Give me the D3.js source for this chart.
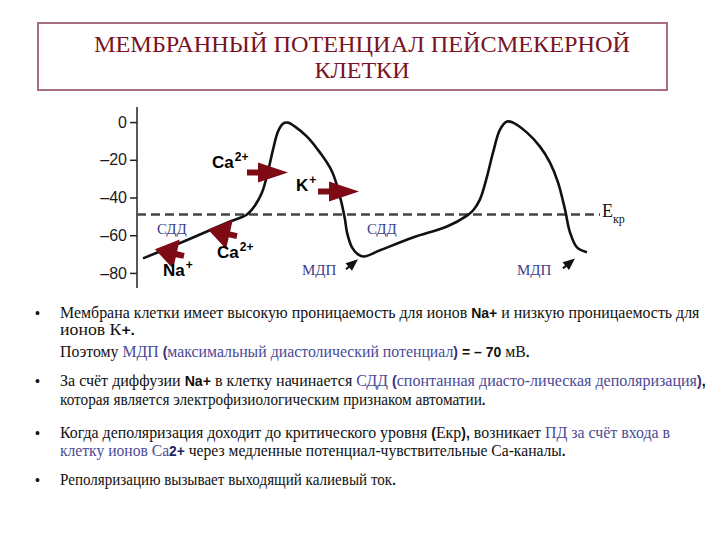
<!DOCTYPE html>
<html>
<head>
<meta charset="utf-8">
<script src="https://cdn.jsdelivr.net/npm/d3@7"></script>
<style>
  body { margin: 0; background: #fff; }
  .tick text { font-family: Arial, "Liberation Sans", sans-serif; font-size: 16px; fill: #1a1a1a; }
  .tick line, .axisLine { stroke: #222; stroke-width: 1.5; }
</style>
</head>
<body>
<div id="chart"></div>
<script>
// membrane potential trace: time (arbitrary ms) and potential (mV)
const timeMs = [12, 66, 126, 186, 220, 236, 250, 262, 272, 282, 292, 302, 316, 340, 366, 390, 406, 416, 420, 430, 442, 454,
                486, 552, 620, 660, 672, 686, 700, 712, 726, 740, 752, 780, 806, 826, 842, 856, 866, 880, 900];
const potentialMv = [-72.3, -66.4, -59.6, -52.7, -49, -44.2, -37.4, -26.2, -14.6, -5, -0.8, -0.3, -2.4, -7.7, -16.2, -26.2, -39.5, -51.7, -58.5, -66.5, -70.2, -71.3,
                     -68, -61.2, -55.4, -49.6, -46.9, -41, -28.9, -16.2, -4, 0.3, -0.3, -5.6, -13, -21.5, -32, -46.4, -58.5, -66.5, -69.1];
const yTicks = [0, -20, -40, -60, -80];
const thresholdMv = -49;

// ion arrows, tail -> tip in (ms, mV)
const ionArrows = [
  {kind: "big", from: [220, -26.8], to: [302, -26.8]},
  {kind: "big", from: [362, -36.8], to: [444, -36.8]},
  {kind: "side", from: [94, -71], to: [36, -67.5]},
  {kind: "side", from: [200, -60.5], to: [142, -57]}
];
const mdpArrows = [
  {from: [418, -78.1], to: [442, -72.8]},
  {from: [852, -77.6], to: [876, -72.3]}
];
const ionLabels = [
  {ion: "Ca", charge: "2+", at: [150, -24.6]},
  {ion: "K", charge: "+", at: [318, -36.8]},
  {ion: "Na", charge: "+", at: [52, -81.9]},
  {ion: "Ca", charge: "2+", at: [160, -72.3]}
];
const phaseLabels = [
  {text: "СДД", at: [40, -59.6]},
  {text: "СДД", at: [460, -59.6]},
  {text: "МДП", at: [330, -81.3]},
  {text: "МДП", at: [760, -81.3]}
];

const titleLines = ["МЕМБРАННЫЙ ПОТЕНЦИАЛ ПЕЙСМЕКЕРНОЙ", "КЛЕТКИ"];

// bullet text: [text, style]
const bulletText = [
  [["Мембрана клетки имеет высокую проницаемость для ионов ", "n"], ["Na+", "b"], [" и низкую проницаемость для", "n"]],
  [["ионов К", "n"], ["+.", "b"]],
  [["Поэтому ", "n"], ["МДП ", "c"], ["(", "cb"], ["максимальный диастолический потенциал", "c"], [")", "cb"], [" ", "n"], ["= – 70", "b"], [" мВ", "n"], [".", "b"]],
  [["За счёт диффузии ", "n"], ["Na+", "b"], [" в клетку начинается ", "n"], ["СДД ", "c"], ["(", "cb"], ["спонтанная диасто-лическая деполяризация", "c"], [")", "cb"], [",", "b"]],
  [["которая является электрофизиологическим признаком автоматии", "n"], [".", "b"]],
  [["Когда деполяризация доходит до критического уровня ", "n"], ["(", "b"], ["Екр", "n"], [")", "b"], [",", "b"], [" возникает ", "n"], ["ПД за счёт входа в", "c"]],
  [["клетку ионов Са", "c"], ["2+", "bc"], [" через медленные потенциал-чувствительные Са-каналы", "n"], [".", "b"]],
  [["Реполяризацию вызывает выходящий калиевый ток", "n"], [".", "b"]]
];

const W = 720, H = 540;
const svg = d3.select("#chart").append("svg").attr("width", W).attr("height", H);

// title box
svg.append("rect")
  .attr("x", 38).attr("y", 23).attr("width", 629).attr("height", 67)
  .attr("fill", "#fff").attr("stroke", "#a8707c").attr("stroke-width", 2);
svg.selectAll(".title")
  .data(titleLines)
  .join("text")
  .attr("x", 362)
  .attr("y", (d, i) => 52 + i * 26)
  .attr("text-anchor", "middle")
  .attr("font-family", "'Liberation Serif', 'Times New Roman', serif")
  .attr("font-size", 24)
  .attr("fill", "#7a1424")
  .attr("textLength", (d, i) => i === 0 ? 536 : null)
  .attr("lengthAdjust", "spacingAndGlyphs")
  .text(d => d);

// scales
const x = d3.scaleLinear().domain([0, 926]).range([137, 600]);
const y = d3.scaleLinear().domain([-88, 8]).range([288, 107]);

svg.append("line").attr("class", "axisLine")
  .attr("x1", x(0)).attr("x2", x(0))
  .attr("y1", y(8)).attr("y2", y(-88));
svg.append("g")
  .attr("transform", `translate(${x(0)},0)`)
  .call(d3.axisLeft(y).tickValues(yTicks).tickSize(7).tickPadding(3).tickSizeOuter(0)
    .tickFormat(d => d === 0 ? "0" : "–" + Math.abs(d)))
  .call(g => g.select(".domain").remove());

// threshold
svg.append("line")
  .attr("x1", x(0)).attr("x2", x(926))
  .attr("y1", y(thresholdMv)).attr("y2", y(thresholdMv))
  .attr("stroke", "#444").attr("stroke-width", 2.5)
  .attr("stroke-dasharray", "9,5");
const ek = svg.append("text")
  .attr("x", x(930)).attr("y", y(-50.6))
  .attr("font-family", "'Liberation Serif', serif").attr("font-size", 18).attr("fill", "#111");
ek.append("tspan").text("E");
ek.append("tspan").attr("dy", 6).attr("font-size", 12).text("кр");

// trace
const trace = timeMs.map((t, i) => ({t, v: potentialMv[i]}));
svg.append("path")
  .datum(trace)
  .attr("fill", "none")
  .attr("stroke", "#111")
  .attr("stroke-width", 2.6)
  .attr("stroke-linejoin", "round")
  .attr("d", d3.line().curve(d3.curveCatmullRom).x(d => x(d.t)).y(d => y(d.v)));

// arrow helper in pixel space
function arrowPath(x0, y0, x1, y1, headLen, headHalf, shaftHalf) {
  const dx = x1 - x0, dy = y1 - y0, L = Math.hypot(dx, dy);
  const ux = dx / L, uy = dy / L, px = -uy, py = ux;
  const bx = x1 - ux * headLen, by = y1 - uy * headLen;
  const p = [
    [x0 + px * shaftHalf, y0 + py * shaftHalf],
    [bx + px * shaftHalf, by + py * shaftHalf],
    [bx + px * headHalf, by + py * headHalf],
    [x1, y1],
    [bx - px * headHalf, by - py * headHalf],
    [bx - px * shaftHalf, by - py * shaftHalf],
    [x0 - px * shaftHalf, y0 - py * shaftHalf]
  ];
  return "M" + p.map(q => q.join(",")).join("L") + "Z";
}

svg.selectAll(".ionArrow")
  .data(ionArrows)
  .join("path")
  .attr("class", "ionArrow")
  .attr("fill", "#7d0a14")
  .attr("d", d => d.kind === "big"
    ? arrowPath(x(d.from[0]), y(d.from[1]), x(d.to[0]), y(d.to[1]), 30, 10, 3)
    : arrowPath(x(d.from[0]), y(d.from[1]), x(d.to[0]), y(d.to[1]), 22, 15, 3));

svg.selectAll(".mdpArrow")
  .data(mdpArrows)
  .join("path")
  .attr("class", "mdpArrow")
  .attr("fill", "#111")
  .attr("d", d => arrowPath(x(d.from[0]), y(d.from[1]), x(d.to[0]), y(d.to[1]), 12, 5, 1));

// ion labels
const il = svg.selectAll(".ionLabel")
  .data(ionLabels)
  .join("text")
  .attr("class", "ionLabel")
  .attr("x", d => x(d.at[0])).attr("y", d => y(d.at[1]))
  .attr("font-family", "Arial, 'Liberation Sans', sans-serif")
  .attr("font-weight", "bold")
  .attr("font-size", 17)
  .attr("fill", "#000");
il.append("tspan").text(d => d.ion);
il.append("tspan").attr("dy", -7).attr("dx", 1).attr("font-size", 12).text(d => d.charge);

svg.selectAll(".phase")
  .data(phaseLabels)
  .join("text")
  .attr("x", d => x(d.at[0])).attr("y", d => y(d.at[1]))
  .attr("font-family", "'Liberation Serif', serif")
  .attr("font-size", 15)
  .attr("fill", "#3d3d8c")
  .text(d => d.text);

// bullet text
const lineY = [318, 335, 357, 386, 405, 438, 456, 485];
const lineW = [640, 75, 470, 646, 426, 610, 506, 336];
const bulletLines = [0, 3, 5, 7];
const styles = {
  n: {family: "'Liberation Serif', serif", weight: "normal", fill: "#111"},
  b: {family: "Arial, 'Liberation Sans', sans-serif", weight: "bold", fill: "#111"},
  c: {family: "'Liberation Serif', serif", weight: "normal", fill: "#4a4a96"},
  cb: {family: "Arial, 'Liberation Sans', sans-serif", weight: "bold", fill: "#3b2a7a"},
  bc: {family: "Arial, 'Liberation Sans', sans-serif", weight: "bold", fill: "#23235e"}
};

bulletText.forEach((segs, i) => {
  const g = svg.append("g").attr("transform", `translate(60,${lineY[i]})`);
  const t = g.append("text");
  segs.forEach(([s, k]) => {
    const st = styles[k];
    t.append("tspan")
      .attr("font-family", st.family)
      .attr("font-weight", st.weight)
      .attr("font-size", k === "n" || k === "c" ? 17 : 15)
      .attr("fill", st.fill)
      .text(s);
  });
  const len = t.node().getComputedTextLength();
  t.attr("transform", `scale(${lineW[i] / len},1)`);
  if (bulletLines.includes(i)) {
    svg.append("text").attr("x", 35).attr("y", lineY[i])
      .attr("font-family", "Arial, sans-serif").attr("font-size", 14).attr("fill", "#111").text("•");
  }
});
</script>
</body>
</html>
